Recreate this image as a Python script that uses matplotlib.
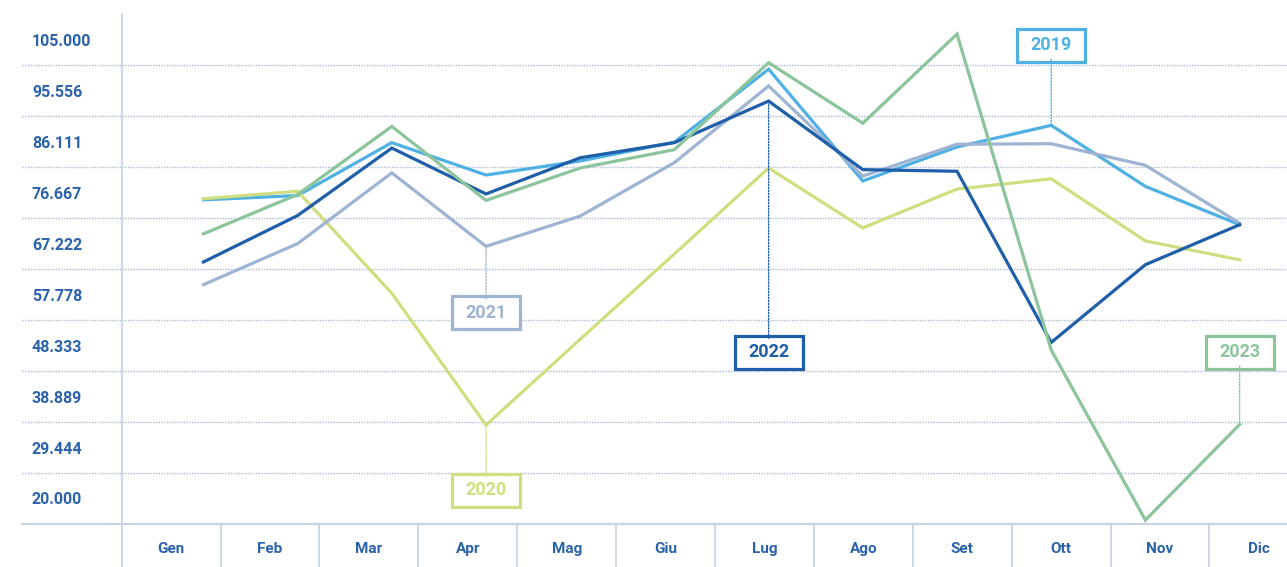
import numpy as np
import matplotlib.pyplot as plt
from matplotlib.patches import Rectangle
from matplotlib.lines import Line2D
from matplotlib.transforms import ScaledTranslation

plt.rcParams['font.family'] = ['Roboto', 'DejaVu Sans']

# data (thousands)
months = ['Gen', 'Feb', 'Mar', 'Apr', 'Mag', 'Giu', 'Lug', 'Ago', 'Set', 'Ott', 'Nov', 'Dic']
y2019 = [75.3, 76.1, 85.9, 79.9, 82.5, 86.0, 99.5, 78.8, 85.1, 89.1, 77.8, 70.7]
y2020 = [75.5, 76.9, 58.0, 33.6, 49.5, 65.3, 81.2, 70.1, 77.3, 79.2, 67.7, 64.2]
y2021 = [59.6, 67.2, 80.3, 66.7, 72.3, 82.2, 96.4, 79.7, 85.6, 85.7, 81.7, 71.0]
y2022 = [63.8, 72.4, 84.9, 76.4, 83.1, 85.9, 93.6, 80.9, 80.6, 48.9, 63.3, 70.7]
y2023 = [69.0, 76.3, 88.9, 75.2, 81.2, 84.6, 100.7, 89.5, 106.0, 47.5, 16.0, 33.7]
years = ['2019', '2020', '2021', '2022', '2023']
series = [y2019, y2020, y2021, y2022, y2023]
colors = ['#4fb1e3', '#cfdf7f', '#9fb3d3', '#1f5ea8', '#8cc49c']

# label box: month index, box centre value
label_month = [9, 3, 3, 6, 11]
label_pos = [103.9, 21.5, 54.4, 47.1, 47.1]

ymin, ymax = 20.0, 105.0
step = (ymax - ymin) / 9
ticks = ymin + step * np.arange(10)
txt_col = '#2a62ab'
grid_col = '#a9bad3'
line_col = '#c8d4e4'

fig = plt.figure(figsize=(12.87, 5.67), dpi=100)
W, H = 1287, 567
ax = fig.add_axes([22 / W, 43 / H, 1 - 22 / W, 510 / H])
ax.set_ylim(ymin - step / 2, ymax + step / 2)
ax.set_xlim(-1.926, 11.503)

x = np.arange(len(months))
for vals, c in zip(series, colors):
    ax.plot(x, vals, color=c, lw=2.3, solid_joinstyle='miter', zorder=3)

# y ticks / grid
ax.set_yticks(ticks)
ax.set_yticklabels([f'{t:.3f}' for t in ticks])
ax.set_yticks(ticks[:-1] + step / 2, minor=True)
ax.tick_params(axis='y', which='both', length=0, pad=-7.2, labelsize=11.5,
               labelcolor=txt_col)
for lab in ax.get_yticklabels():
    lab.set_horizontalalignment('left')
    lab.set_fontweight('bold')
ax.grid(which='minor', axis='y', color=grid_col, lw=1.0, linestyle=(0, (1, 1)))
ax.set_xticks([])
for s in ['top', 'right', 'left']:
    ax.spines[s].set_visible(False)
ax.spines['bottom'].set_color(line_col)
ax.spines['bottom'].set_linewidth(1.6)

# year label boxes with dotted leaders
for yr, c, m, pos, vals in zip(years, colors, label_month, label_pos, series):
    ax.annotate(yr, xy=(m, vals[m]), xytext=(m, pos), textcoords='data',
                ha='center', va='center', fontsize=13, fontweight='bold',
                color=c, zorder=5,
                arrowprops=dict(arrowstyle='-', color=c, lw=1.0,
                                linestyle=(0, (1, 1.2)), shrinkA=1.5, shrinkB=0))
    tr = fig.dpi_scale_trans + ScaledTranslation(m, pos, ax.transData)
    ax.add_patch(Rectangle((-0.34, -0.165), 0.68, 0.33, transform=tr,
                           facecolor='white', edgecolor=c, lw=2.3, zorder=4,
                           clip_on=False))

# vertical axis line
fig.add_artist(Line2D([121.7 / W] * 2, [0, 553 / H], color=line_col, lw=1.3))

# category strip
cax = fig.add_axes([121.7 / W, 0, 1 - 121.7 / W, 43 / H])
cax.set_xlim(-0.5, 11.284)
cax.set_ylim(0, 1)
cax.axis('off')
for k in range(1, len(months)):
    cax.axvline(k - 0.5, color=line_col, lw=1.3)
for k, m in enumerate(months):
    cax.text(k, 0.42, m, ha='center', va='center', fontsize=11,
             fontweight='bold', color=txt_col)

fig.savefig('out.png', dpi=100)
